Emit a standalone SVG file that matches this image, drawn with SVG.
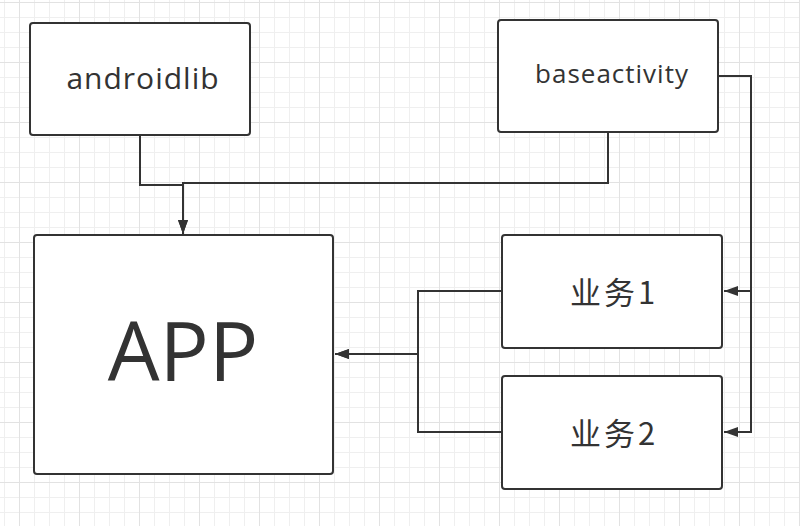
<svg xmlns="http://www.w3.org/2000/svg" width="800" height="526" viewBox="0 0 800 526">
<style>
.box{fill:#fff;stroke:#333;stroke-width:2}
.lbl{fill:#333;font-family:"Open Sans","Noto Sans","Noto Sans CJK SC",sans-serif;text-anchor:middle}
.cjk{fill:#333;font-family:"Noto Sans CJK SC","Noto Sans",sans-serif;text-anchor:middle;font-size:31px;letter-spacing:3px}
.edge{fill:none;stroke:#333;stroke-width:2}
</style>
<defs>
<pattern id="grid" x="19" y="2" width="60" height="60" patternUnits="userSpaceOnUse">
<rect x="15" y="0" width="1" height="60" fill="#efefef"/>
<rect x="30" y="0" width="1" height="60" fill="#efefef"/>
<rect x="45" y="0" width="1" height="60" fill="#efefef"/>
<rect x="0" y="15" width="60" height="1" fill="#efefef"/>
<rect x="0" y="30" width="60" height="1" fill="#efefef"/>
<rect x="0" y="45" width="60" height="1" fill="#efefef"/>
<rect x="0" y="0" width="1" height="60" fill="#e2e2e2"/>
<rect x="0" y="0" width="60" height="1" fill="#e2e2e2"/>
</pattern>
<marker id="arr" markerUnits="userSpaceOnUse" markerWidth="16" markerHeight="12" refX="14" refY="5" orient="auto">
<path d="M0,0 L14,5 L0,10 Z" fill="#333"/>
</marker>
</defs>
<rect width="800" height="526" fill="#fff"/>
<rect width="800" height="526" fill="url(#grid)"/>
<g id="connectors">
<path class="edge" d="M140,136 V185 H183 V234" marker-end="url(#arr)"/>
<path class="edge" d="M608,133 V183 H183 V234" marker-end="url(#arr)"/>
<path class="edge" d="M719,76 H751 V291 H724" marker-end="url(#arr)"/>
<path class="edge" d="M751,291 V432 H724" marker-end="url(#arr)"/>
<path class="edge" d="M501,291 H418 V354 H335" marker-end="url(#arr)"/>
<path class="edge" d="M501,432 H418 V354 H335" marker-end="url(#arr)"/>
</g>
<g id="androidlib">
<rect class="box" x="30" y="23" width="220" height="112" rx="3"/>
<text class="lbl" x="143" y="89" font-size="30" letter-spacing="1">androidlib</text>
</g>
<g id="baseactivity">
<rect class="box" x="498" y="20" width="220" height="112" rx="3"/>
<text class="lbl" x="612" y="83" font-size="26" letter-spacing="1">baseactivity</text>
</g>
<g id="app">
<rect class="box" x="34" y="235" width="299" height="239" rx="3"/>
<text class="lbl" x="183" y="381" font-size="82">APP</text>
</g>
<g id="yewu1">
<rect class="box" x="502" y="235" width="220" height="113" rx="3"/>
<text class="cjk" x="614" y="304">业务1</text>
</g>
<g id="yewu2">
<rect class="box" x="502" y="376" width="220" height="113" rx="3"/>
<text class="cjk" x="614" y="445">业务2</text>
</g>
</svg>
